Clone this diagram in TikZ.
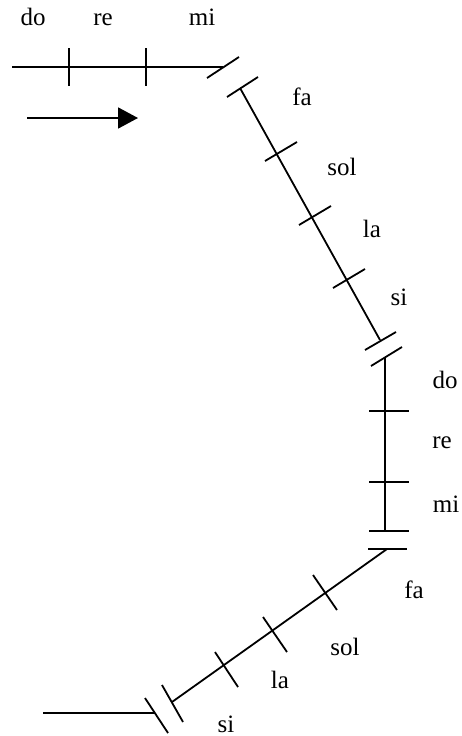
\documentclass[tikz,border=0pt]{standalone}
\usepackage{fontspec}
\setmainfont{Liberation Serif}
\usetikzlibrary{arrows.meta}

\begin{document}
\begin{tikzpicture}[x=1pt, y=-1pt, line width=1.8pt,
  note/.style={anchor=base, inner sep=0pt, font=\fontsize{25}{30}\selectfont}]
\useasboundingbox (0,0) rectangle (462,736);

% top stretch
\coordinate (a0) at (12,67);
\coordinate (a1) at (223,67);
\draw (a0) -- (a1);
\draw (69,48) -- (69,86);
\draw (146,48) -- (146,86);
\draw (207,78) -- (239,57);
\node[note] (do1) at (33,25) {do};
\node[note] (re1) at (103,25) {re};
\node[note] (mi1) at (202,25) {mi};

% direction
\coordinate (p0) at (27,118);
\coordinate (p1) at (138,118);
\draw[-{Triangle[length=20pt,width=21pt]}] (p0) -- (p1);

% first slope
\coordinate (b0) at (240,88);
\coordinate (b1) at (380,340);
\draw (227,97) -- (258,77);
\draw (b0) -- (b1);
\draw (265,161) -- (297,142);
\draw (299,225) -- (331,206);
\draw (333,288) -- (365,269);
\draw (365,350) -- (396,332);
\node[note] (fa1) at (302,105) {fa};
\node[note] (sol1) at (342,175) {sol};
\node[note] (la1) at (372,237) {la};
\node[note] (si1) at (399,305) {si};

% upright stretch
\coordinate (v0) at (385,357);
\coordinate (v1) at (385,531);
\draw (371,366) -- (402,347);
\draw (v0) -- (v1);
\draw (369,411) -- (409,411);
\draw (369,482) -- (409,482);
\draw (369,531) -- (409,531);
\node[note] (do2) at (445,388) {do};
\node[note] (re2) at (442,448) {re};
\node[note] (mi2) at (446,512) {mi};

% second slope
\coordinate (w0) at (387,549);
\coordinate (w1) at (172,702);
\draw (368,549) -- (407,549);
\draw (w0) -- (w1);
\draw (313,575) -- (337,610);
\draw (263,617) -- (287,652);
\draw (215,652) -- (238,687);
\draw (162,685) -- (183,722);
\node[note] (fa2) at (414,598) {fa};
\node[note] (sol2) at (345,655) {sol};
\node[note] (la2) at (280,688) {la};
\node[note] (si2) at (226,732) {si};

% way out
\coordinate (z0) at (43,713);
\coordinate (z1) at (155,713);
\draw (145,698) -- (168,733);
\draw (z0) -- (z1);
\end{tikzpicture}
\end{document}
